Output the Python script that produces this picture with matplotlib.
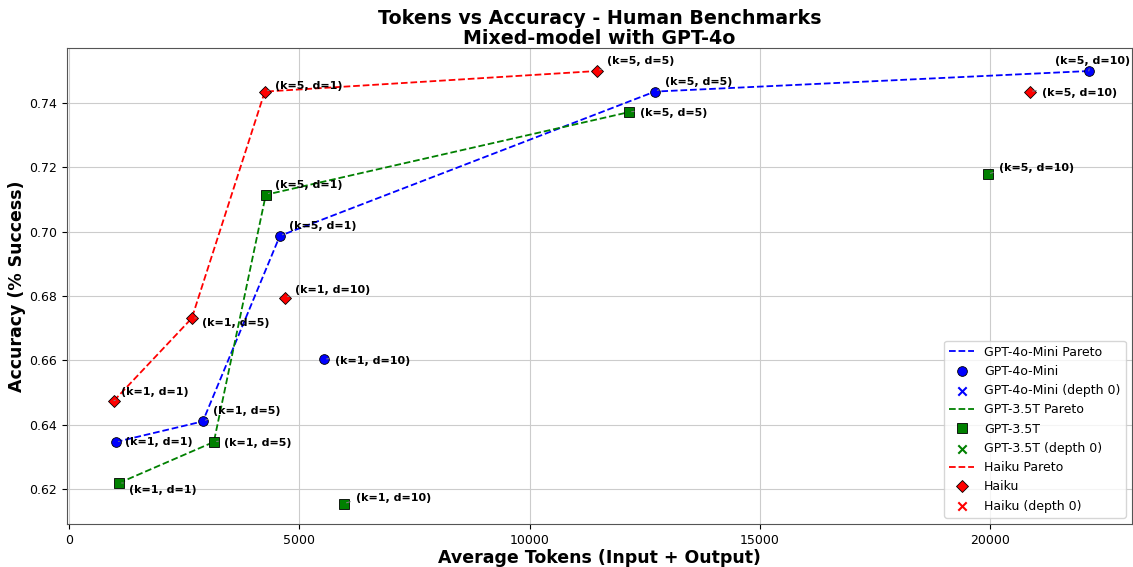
import matplotlib
matplotlib.use("Agg")
import matplotlib.pyplot as plt

# ---------------------------------------------------------
# Data (accuracy = solved / 156)
# ---------------------------------------------------------
labels = ["(k=1, d=1)", "(k=1, d=5)", "(k=5, d=1)", "(k=1, d=10)", "(k=5, d=5)", "(k=5, d=10)"]

mini_tokens = [1020, 2908, 4579, 5534, 12717, 22135]
mini_acc = [0.6346, 0.6410, 0.6987, 0.6603, 0.7436, 0.7500]
mini_pareto = [0, 1, 2, 4, 5]

gpt35_tokens = [1085, 3147, 4275, 5968, 12153, 19943]
gpt35_acc = [0.6218, 0.6346, 0.7115, 0.6154, 0.7372, 0.7179]
gpt35_pareto = [0, 1, 2, 4]

haiku_tokens = [977, 2669, 4253, 4688, 11458, 20855]
haiku_acc = [0.6474, 0.6731, 0.7436, 0.6795, 0.7500, 0.7436]
haiku_pareto = [0, 1, 2, 4]

# label offsets in pixels
mini_off = [(9, 0), (10, 10), (9, 10), (11, -2), (10, 10), (-34, 10)]
gpt35_off = [(10, -7), (10, -1), (9, 10), (12, 6), (11, -1), (11, 6)]
haiku_off = [(7, 9), (10, -5), (10, 6), (10, 8), (10, 10), (12, -1)]

series = [
    ("GPT-4o-Mini", mini_tokens, mini_acc, mini_pareto, mini_off, "blue", "o", 7),
    ("GPT-3.5T", gpt35_tokens, gpt35_acc, gpt35_pareto, gpt35_off, "green", "s", 6.5),
    ("Haiku", haiku_tokens, haiku_acc, haiku_pareto, haiku_off, "red", "D", 6.5),
]

# ---------------------------------------------------------
# Plot
# ---------------------------------------------------------
fig = plt.figure(figsize=(11.33, 5.67), dpi=100)
ax = fig.add_axes([0.059, 0.076, 0.94, 0.839])

for name, xs, ys, par, offs, col, mk, ms in series:
    px = [xs[i] for i in par]
    py = [ys[i] for i in par]
    ax.plot(px, py, "--", color=col, lw=1.3, label=name + " Pareto", zorder=2)
    ax.plot(xs, ys, linestyle="none", marker=mk, ms=ms, color=col,
            markeredgecolor="black", markeredgewidth=0.6, label=name, zorder=3)
    ax.scatter([], [], marker="x", color=col, label=name + " (depth 0)")
    for x, y, lab, off in zip(xs, ys, labels, offs):
        ax.annotate(lab, (x, y), xytext=off, textcoords="offset pixels",
                    fontsize=8, fontweight="bold", va="center",
                    arrowprops=dict(arrowstyle="-", color="gray", lw=0.7,
                                    connectionstyle="arc3,rad=0.1"),
                    zorder=4)

ax.set_xlim(-43, 23070)
ax.set_ylim(0.6091, 0.7571)
ax.set_xticks([0, 5000, 10000, 15000, 20000])
ax.set_yticks([0.62, 0.64, 0.66, 0.68, 0.70, 0.72, 0.74])
ax.tick_params(labelsize=9)
ax.grid(True, color="#cccccc", lw=0.8)
for s in ax.spines.values():
    s.set_color("#555555")

ax.set_xlabel("Average Tokens (Input + Output)", fontsize=12.5, fontweight="bold", labelpad=2)
ax.set_ylabel("Accuracy (% Success)", fontsize=12.5, fontweight="bold", labelpad=2)
ax.set_title("Tokens vs Accuracy - Human Benchmarks\nMixed-model with GPT-4o",
             fontsize=13.7, fontweight="bold", linespacing=1.1, pad=2)
ax.legend(loc="lower right", fontsize=9, labelspacing=0.5)

fig.savefig("out.png", dpi=100)
